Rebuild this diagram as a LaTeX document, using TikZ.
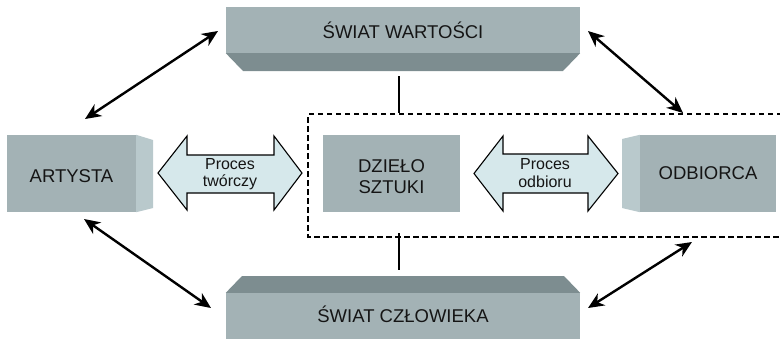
\documentclass[tikz,border=0pt]{standalone}
\usepackage{fontspec}
\setmainfont{Liberation Sans}
\usetikzlibrary{arrows.meta}
\definecolor{face}{HTML}{A3B2B5}
\definecolor{bevel}{HTML}{7D8D90}
\definecolor{side}{HTML}{B9C9CC}
\definecolor{arrfill}{HTML}{D6E8EB}
\definecolor{txt}{HTML}{151515}
\tikzset{
  facebox/.style={fill=face, draw=none, inner sep=0pt},
  bevelface/.style={fill=bevel, draw=none},
  sideface/.style={fill=side, draw=none},
  biglbl/.style={text=txt, font=\fontsize{18.5}{21}\selectfont, inner sep=0pt, align=center},
  smalllbl/.style={text=txt, font=\fontsize{16}{19}\selectfont, inner sep=0pt, align=center},
  fatarrow/.style={fill=arrfill, draw=black, line width=1.1pt, line join=miter},
  link/.style={line width=2.4pt, {Stealth[length=16pt,width=14pt,inset=5pt]}-{Stealth[length=16pt,width=14pt,inset=5pt]}},
  stem/.style={line width=2.6pt},
  frame/.style={line width=1.2pt, dash pattern=on 5.5pt off 3.5pt}
}
\begin{document}
\begin{tikzpicture}[x=1pt,y=-1pt]
\useasboundingbox (0,0) rectangle (780,338);
% top box
\node[facebox, minimum width=354pt, minimum height=46pt] (wart) at (403,30) {};
\fill[bevelface] (wart.south west) -- (wart.south east) -- (563,71) -- (243,71) -- cycle;
\node[biglbl, anchor=base] (wartT) at (403,38.5) {ŚWIAT WARTOŚCI};
% bottom box
\node[facebox, minimum width=354pt, minimum height=46pt] (czl) at (403,316) {};
\fill[bevelface] (czl.north west) -- (czl.north east) -- (564,276) -- (242,276) -- cycle;
\node[biglbl, anchor=base] (czlT) at (403,322) {ŚWIAT CZŁOWIEKA};
% artysta
\node[facebox, minimum width=129pt, minimum height=77pt] (art) at (71.5,173.5) {};
\fill[sideface] (art.north east) -- (153,140) -- (153,208) -- (art.south east) -- cycle;
\node[biglbl, anchor=base] (artT) at (71.5,182) {ARTYSTA};
% dzielo
\node[facebox, minimum width=137pt, minimum height=77pt] (dz) at (391.5,173.5) {};
\node[biglbl, anchor=base] (dzT1) at (391.5,172) {DZIEŁO};
\node[biglbl, anchor=base] (dzT2) at (391.5,193) {SZTUKI};
% odbiorca
\node[facebox, minimum width=136pt, minimum height=77pt] (odb) at (708,173.5) {};
\fill[sideface] (odb.north west) -- (622,139) -- (622,208) -- (odb.south west) -- cycle;
\node[biglbl, anchor=base] (odbT) at (708,179) {ODBIORCA};
% fat arrows
\draw[fatarrow] (158,173) -- (187,136) -- (187,155) -- (274,155) -- (274,136) -- (302,173)
  -- (274,210) -- (274,193) -- (187,193) -- (187,210) -- cycle;
\node[smalllbl, anchor=base] (p1a) at (230,169) {Proces};
\node[smalllbl, anchor=base] (p1b) at (230,186) {twórczy};
\draw[fatarrow] (474,173.5) -- (503,136) -- (503,154) -- (588,154) -- (588,136) -- (618,173.5)
  -- (588,211) -- (588,193) -- (503,193) -- (503,211) -- cycle;
\node[smalllbl, anchor=base] (p2a) at (545,169) {Proces};
\node[smalllbl, anchor=base] (p2b) at (545,187) {odbioru};
% dashed frame
\coordinate (fr1) at (782,114);
\coordinate (fr2) at (308,114);
\coordinate (fr3) at (308,237);
\coordinate (fr4) at (782,237);
\draw[frame] (fr1) -- (fr2) -- (fr3) -- (fr4);
% stems
\coordinate (s1a) at (399,76);
\coordinate (s1b) at (399,113);
\coordinate (s2a) at (399,233);
\coordinate (s2b) at (399,270);
\draw[stem] (s1a) -- (s1b);
\draw[stem] (s2a) -- (s2b);
% links
\coordinate (l1a) at (85,119);  \coordinate (l1b) at (218,31);
\coordinate (l2a) at (588,31);  \coordinate (l2b) at (683,113);
\coordinate (l3a) at (84,219);  \coordinate (l3b) at (211,308);
\coordinate (l4a) at (588,308); \coordinate (l4b) at (692,242);
\draw[link] (l1a) -- (l1b);
\draw[link] (l2a) -- (l2b);
\draw[link] (l3a) -- (l3b);
\draw[link] (l4a) -- (l4b);
\end{tikzpicture}
\end{document}
